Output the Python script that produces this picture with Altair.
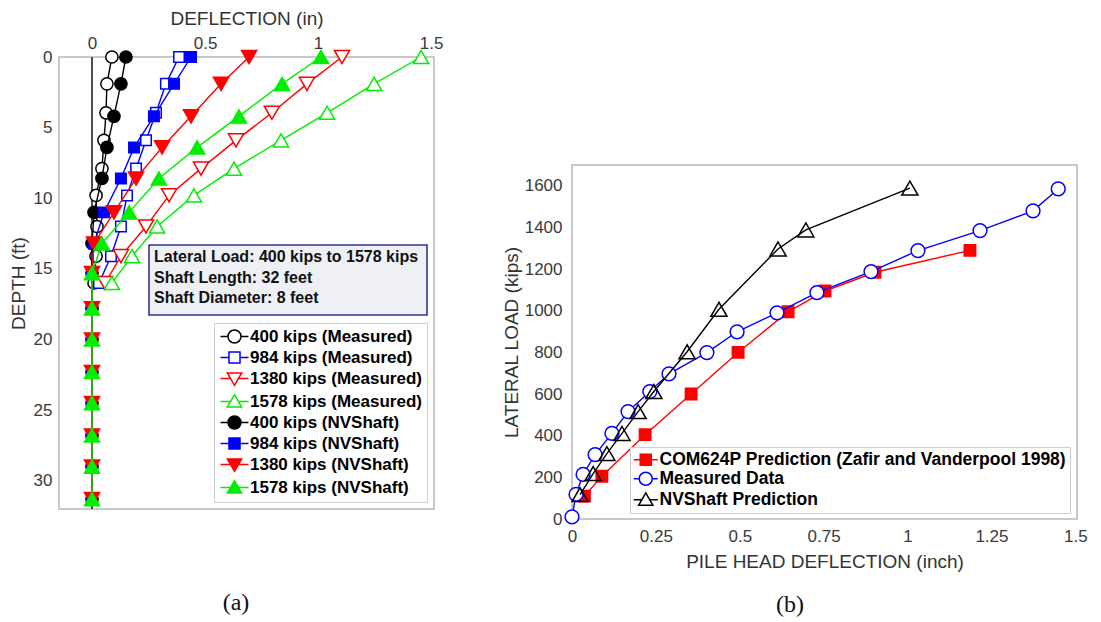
import altair as alt
import pandas as pd

FONT = "Liberation Sans"

# ---------------- panel (a): deflection vs depth ----------------
a_series = ["400 kips (Measured)", "984 kips (Measured)", "1380 kips (Measured)", "1578 kips (Measured)",
            "400 kips (NVShaft)", "984 kips (NVShaft)", "1380 kips (NVShaft)", "1578 kips (NVShaft)"]

meas_depth = [0, 1.9, 3.95, 5.9, 7.9, 9.8, 12.0, 14.1, 16.0]
meas_400 = [0.088, 0.066, 0.062, 0.053, 0.044, 0.018, 0.022, 0.018, 0.009]
meas_984 = [0.385, 0.327, 0.283, 0.239, 0.195, 0.155, 0.128, 0.084, 0.031]
meas_1380 = [1.106, 0.951, 0.796, 0.637, 0.482, 0.341, 0.239, 0.128, 0.058]
meas_1578 = [1.456, 1.248, 1.040, 0.836, 0.628, 0.451, 0.288, 0.177, 0.088]

nv_depth = [0, 1.9, 4.2, 6.4, 8.6, 11.0, 13.2, 15.3, 17.8, 20.0, 22.3, 24.5, 26.8, 29.0, 31.3]
nv_400 = [0.150, 0.128, 0.097, 0.066, 0.044, 0.009, 0.0, 0.0, 0.0, 0.0, 0.0, 0.0, 0.0, 0.0, 0.0]
nv_984 = [0.438, 0.363, 0.274, 0.186, 0.128, 0.053, 0.009, 0.0, 0.0, 0.0, 0.0, 0.0, 0.0, 0.0, 0.0]
nv_1380 = [0.695, 0.571, 0.438, 0.310, 0.195, 0.097, 0.009, 0.0, 0.0, 0.0, 0.0, 0.0, 0.0, 0.0, 0.0]
nv_1578 = [1.013, 0.841, 0.650, 0.465, 0.296, 0.164, 0.044, 0.0, 0.0, 0.0, 0.0, 0.0, 0.0, 0.0, 0.0]

a_xticks = [0, 0.5, 1, 1.5]
a_yticks = [0, 5, 10, 15, 20, 25, 30]
info_lines = ["Lateral Load: 400 kips to 1578 kips", "Shaft Length: 32 feet", "Shaft Diameter: 8 feet"]

# ---------------- panel (b): load vs pile head deflection ----------------
b_series = ["COM624P Prediction (Zafir and Vanderpool 1998)", "Measured Data", "NVShaft Prediction"]
com_defl = [0.037, 0.089, 0.218, 0.355, 0.495, 0.644, 0.754, 0.903, 1.186]
com_load = [110, 205, 405, 600, 800, 995, 1095, 1185, 1290]
mea_defl = [0.0, 0.012, 0.033, 0.069, 0.119, 0.167, 0.232, 0.289, 0.402, 0.492, 0.611, 0.730, 0.891,
            1.031, 1.216, 1.374, 1.449]
mea_load = [10, 118, 214, 309, 411, 516, 612, 697, 799, 899, 990, 1087, 1188, 1289, 1385, 1480, 1585]
nvp_defl = [0.024, 0.063, 0.104, 0.149, 0.197, 0.244, 0.343, 0.438, 0.614, 0.697, 1.007]
nvp_load = [117, 218, 314, 411, 516, 612, 803, 1007, 1297, 1388, 1589]

b_xticks = [0, 0.25, 0.5, 0.75, 1, 1.25, 1.5]
b_yticks = [0, 200, 400, 600, 800, 1000, 1200, 1400, 1600]

# ---------------- styles ----------------
A_STROKE = ["#000000", "#0000ff", "#ff0000", "#00ee00", "#000000", "#0000ff", "#ff0000", "#00ee00"]
A_FILL = ["#ffffff", "#ffffff", "#ffffff", "#ffffff", "#000000", "#0000ff", "#ff0000", "#00ee00"]
A_SHAPE = ["circle", "square", "triangle-down", "triangle-up"] * 2
A_SIZE = [150, 110, 230, 230] * 2


def leg_path(kind, ext):
    e = str(ext)
    if kind == "circle":
        return f"M-{e},0L-1,0M1,0L{e},0M1,0A1,1 0 1,1 -1,0A1,1 0 1,1 1,0Z"
    if kind == "square":
        return f"M-{e},0L-0.85,0M0.85,0L{e},0M-0.85,-0.85L0.85,-0.85L0.85,0.85L-0.85,0.85Z"
    if kind == "triangle-up":
        return f"M-{e},0L-0.61,0M0.61,0L{e},0M0,-1.05L1.1,0.85L-1.1,0.85Z"
    return f"M-{e},0L-0.61,0M0.61,0L{e},0M0,1.05L1.1,-0.85L-1.1,-0.85Z"


LABEL_EXPR = "'' + datum.value"
axis_common = dict(grid=False, ticks=False, domain=False, labelExpr=LABEL_EXPR, labelFlush=False,
                   labelFont=FONT, titleFont=FONT, labelFontSize=17, titleFontSize=19,
                   labelColor="#3a3a3a", titleColor="#333333", titleFontWeight="normal")

# ---------------- build panel (a) ----------------
a_values = [meas_400, meas_984, meas_1380, meas_1578, nv_400, nv_984, nv_1380, nv_1578]
rows = []
for i, (name, vals) in enumerate(zip(a_series, a_values)):
    depths = meas_depth if i < 4 else nv_depth
    for j, (d, v) in enumerate(zip(depths, vals)):
        rows.append({"series": name, "x": v, "depth": d, "idx": j})
df_a = pd.DataFrame(rows)

x_a = alt.X("x:Q", scale=alt.Scale(domain=[-0.146, 1.513], nice=False, zero=False),
            axis=alt.Axis(orient="top", values=a_xticks, title="DEFLECTION (in)",
                          labelPadding=5, titlePadding=6, **axis_common))
y_a = alt.Y("depth:Q", scale=alt.Scale(domain=[0, 32], reverse=True, nice=False, zero=False),
            axis=alt.Axis(values=a_yticks, title="DEPTH (ft)", labelPadding=7, titlePadding=5,
                          **axis_common))

layers_a = [alt.Chart(pd.DataFrame({"x": [0.0]})).mark_rule(color="#222222", strokeWidth=1.6).encode(x=x_a)]
for i, name in enumerate(a_series):
    d = df_a[df_a["series"] == name]
    layers_a.append(
        alt.Chart(d).mark_line(
            color=A_STROKE[i], strokeWidth=1.4,
            point=alt.OverlayMarkDef(shape=A_SHAPE[i], size=A_SIZE[i], filled=True,
                                     fill=A_FILL[i], stroke=A_STROKE[i], strokeWidth=1.5, opacity=1)
        ).encode(x=x_a, y=y_a, order="idx:Q")
    )

leg_a = alt.Legend(orient="none", legendX=155, legendY=266, title=None, labelFont=FONT,
                   labelFontWeight="bold", labelFontSize=17, labelColor="#000000", labelLimit=400,
                   symbolSize=169, symbolStrokeWidth=1.5, symbolOffset=7, labelOffset=7,
                   symbolOpacity=1, rowPadding=2, padding=5, strokeColor="#cfcfcf",
                   fillColor="#ffffff")
a_leg_paths = [leg_path(s, 2.15) for s in A_SHAPE]
layers_a.append(
    alt.Chart(df_a).transform_filter("datum.x < -100").mark_point(
        filled=True, strokeWidth=1.5, opacity=1).encode(
        x=x_a, y=y_a,
        shape=alt.Shape("series:N", scale=alt.Scale(domain=a_series, range=a_leg_paths), legend=leg_a),
        stroke=alt.Stroke("series:N", scale=alt.Scale(domain=a_series, range=A_STROKE), legend=leg_a),
        fill=alt.Fill("series:N", scale=alt.Scale(domain=a_series, range=A_FILL), legend=leg_a),
    )
)

one = pd.DataFrame({"k": [0]})
layers_a.append(
    alt.Chart(one).mark_rect(fill="#eef0f6", stroke="#34348a", strokeWidth=1.6).encode(
        x=alt.value(90), x2=alt.value(368), y=alt.value(188), y2=alt.value(258))
)
layers_a.append(
    alt.Chart(one).mark_text(align="left", baseline="top", lineBreak="\n", lineHeight=20.5,
                             font=FONT, fontSize=16, fontWeight="bold", color="#111111").encode(
        x=alt.value(95), y=alt.value(192), text=alt.value("\n".join(info_lines)))
)
layers_a.append(
    alt.Chart(one).mark_text(font="Liberation Serif", fontSize=24, color="#111111",
                             baseline="middle").encode(
        x=alt.value(177), y=alt.value(546), text=alt.value("(a)"))
)

panel_a = alt.layer(*layers_a).properties(
    width=375, height=452, view=alt.ViewBackground(stroke="#b8b8b8", strokeWidth=1.5))

# ---------------- build panel (b) ----------------
b_vals = [(com_defl, com_load), (mea_defl, mea_load), (nvp_defl, nvp_load)]
rows = []
for name, (xs, ys) in zip(b_series, b_vals):
    for j, (xv, yv) in enumerate(zip(xs, ys)):
        rows.append({"series_b": name, "defl": xv, "load": yv, "idx": j})
df_b = pd.DataFrame(rows)

B_STROKE = ["#ff0000", "#0000ff", "#000000"]
B_FILL = ["#ff0000", "#ffffff", "transparent"]
B_LEGFILL = ["#ff0000", "#ffffff", "#ffffff"]
B_SHAPE = ["square", "circle", "triangle-up"]
B_SIZE = [130, 190, 260]

SPACER_H = 106

x_b = alt.X("defl:Q", scale=alt.Scale(domain=[0, 1.505], nice=False, zero=False),
            axis=alt.Axis(values=b_xticks, title="PILE HEAD DEFLECTION (inch)",
                          labelPadding=9, titlePadding=8, **axis_common))
y_b = alt.Y("load:Q", scale=alt.Scale(domain=[0, 1700], nice=False, zero=False),
            axis=alt.Axis(values=b_yticks, title="LATERAL LOAD (kips)", labelPadding=10,
                          titlePadding=3, **axis_common))

layers_b = []
for i, name in enumerate(b_series):
    d = df_b[df_b["series_b"] == name]
    layers_b.append(
        alt.Chart(d).mark_line(
            color=B_STROKE[i], strokeWidth=1.4,
            point=alt.OverlayMarkDef(shape=B_SHAPE[i], size=B_SIZE[i], filled=True,
                                     fill=B_FILL[i], stroke=B_STROKE[i], strokeWidth=1.5, opacity=1)
        ).encode(x=x_b, y=y_b, order="idx:Q")
    )

leg_b = alt.Legend(orient="none", legendX=58, legendY=284 + SPACER_H, title=None, labelFont=FONT,
                   labelFontWeight="bold", labelFontSize=17.5, labelColor="#000000", labelLimit=600,
                   symbolSize=169, symbolStrokeWidth=1.5, symbolOffset=3, labelOffset=5,
                   symbolOpacity=1, rowPadding=0, padding=4, strokeColor="#cfcfcf",
                   fillColor="#ffffff")
b_leg_paths = [leg_path(s, 1.85) for s in B_SHAPE]
layers_b.append(
    alt.Chart(df_b).transform_filter("datum.defl < -100").mark_point(
        filled=True, strokeWidth=1.5, opacity=1).encode(
        x=x_b, y=y_b,
        shape=alt.Shape("series_b:N", scale=alt.Scale(domain=b_series, range=b_leg_paths), legend=leg_b),
        stroke=alt.Stroke("series_b:N", scale=alt.Scale(domain=b_series, range=B_STROKE), legend=leg_b),
        fill=alt.Fill("series_b:N", scale=alt.Scale(domain=b_series, range=B_LEGFILL), legend=leg_b),
    )
)
layers_b.append(
    alt.Chart(one).mark_text(font="Liberation Serif", fontSize=24, color="#111111",
                             baseline="middle").encode(
        x=alt.value(218), y=alt.value(440), text=alt.value("(b)"))
)

panel_b = alt.layer(*layers_b).properties(
    width=505, height=354, view=alt.ViewBackground(stroke="#b8b8b8", strokeWidth=1.5))

spacer = alt.Chart(one).mark_point(opacity=0).encode(
    x=alt.value(0), y=alt.value(0)).properties(
    width=20, height=SPACER_H, view=alt.ViewBackground(stroke="#ffffff"))

right = alt.vconcat(spacer, panel_b, spacing=0)

chart = alt.hconcat(panel_a, right, spacing=57).resolve_scale(
    shape="independent", stroke="independent", fill="independent"
).resolve_legend(
    shape="independent", stroke="independent", fill="independent"
).properties(
    padding={"left": 0, "top": 0, "right": 0, "bottom": 0}
).configure(background="#ffffff")

chart.save("out.html", embed_options={"renderer": "svg", "actions": False})
